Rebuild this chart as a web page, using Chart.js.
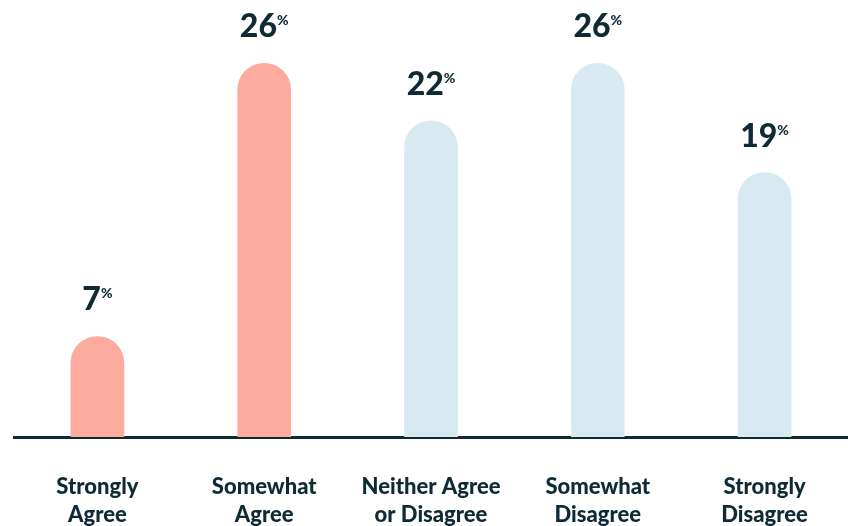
<!DOCTYPE html>
<html>
<head>
<meta charset="utf-8">
<script src="https://cdn.jsdelivr.net/npm/chart.js@4"></script>
<style>
  html, body { margin: 0; padding: 0; background: #ffffff; }
  #wrap { width: 848px; height: 526px; }
</style>
</head>
<body>
<div id="wrap"><canvas id="agree_chart" width="848" height="526"></canvas></div>
<script>
var categories = [["Strongly", "Agree"], ["Somewhat", "Agree"], ["Neither Agree", "or Disagree"], ["Somewhat", "Disagree"], ["Strongly", "Disagree"]];
var shares = [7, 26, 22, 26, 18.4];          // bar heights
var shareLabels = ["7", "26", "22", "26", "19"]; // printed values
var barColors = ["#FDAB9F", "#FDAB9F", "#D7EAF1", "#D7EAF1", "#D7EAF1"];

var ink = "#0E2A35";

// draws "26%" above each bar, with a small raised percent sign
var valueLabels = {
    id: "valueLabels",
    afterDatasetsDraw: function(chart) {
        var ctx = chart.ctx;
        var meta = chart.getDatasetMeta(0);
        ctx.save();
        ctx.fillStyle = ink;
        ctx.textBaseline = "alphabetic";
        meta.data.forEach(function(bar, i) {
            var big = "900 32px Lato";
            var small = "900 14px Lato";
            ctx.font = big;
            var w1 = ctx.measureText(shareLabels[i]).width;
            ctx.font = small;
            var w2 = ctx.measureText("%").width;
            var left = bar.x - (w1 + w2) / 2;
            var base = bar.y - 26;
            ctx.font = big;
            ctx.textAlign = "left";
            ctx.fillText(shareLabels[i], left, base);
            ctx.font = small;
            ctx.fillText("%", left + w1, base - 12);
        });
        ctx.restore();
    }
};

new Chart(document.getElementById("agree_chart"), {
    type: "bar",
    data: {
        labels: categories,
        datasets: [{
            data: shares,
            backgroundColor: barColors,
            barThickness: 53,
            borderRadius: { topLeft: 27, topRight: 27, bottomLeft: 0, bottomRight: 0 },
            borderSkipped: "bottom"
        }]
    },
    options: {
        responsive: false,
        animation: false,
        layout: {
            padding: { left: 14, right: 0, top: 0, bottom: -39 }
        },
        plugins: {
            legend: { display: false },
            tooltip: { enabled: false }
        },
        scales: {
            x: {
                grid: { display: false, drawTicks: false },
                border: { display: true, color: ink, width: 3 },
                ticks: {
                    color: ink,
                    padding: 36,
                    maxRotation: 0,
                    autoSkip: false,
                    font: { family: "Lato", size: 22, weight: "900", lineHeight: 1.27 }
                }
            },
            y: {
                display: false,
                min: 0,
                max: 30.4
            }
        }
    },
    plugins: [valueLabels]
});
</script>
</body>
</html>
